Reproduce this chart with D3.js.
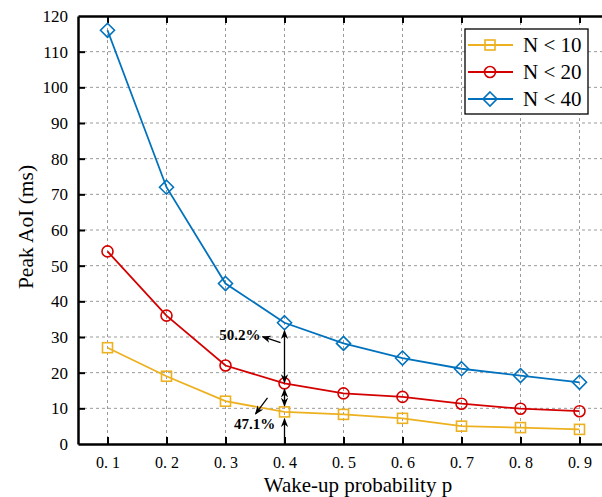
<!DOCTYPE html>
<html>
<head>
<meta charset="utf-8">
<script src="https://cdn.jsdelivr.net/npm/d3@7"></script>
<style>
  body { margin: 0; background: #fff; }
  svg text { font-family: "Liberation Serif", "DejaVu Serif", serif; }
</style>
</head>
<body>
<div id="chart"></div>
<script>
// data
const probs = [0.1, 0.2, 0.3, 0.4, 0.5, 0.6, 0.7, 0.8, 0.9]
const n10 = [27, 19, 12, 9, 8.3, 7.2, 5, 4.6, 4.1]
const n20 = [54, 36, 22, 17, 14.2, 13.2, 11.3, 9.9, 9.2]
const n40 = [116, 72, 45, 34, 28.2, 24.1, 21.1, 19.2, 17.3]
const yTicks = [0, 10, 20, 30, 40, 50, 60, 70, 80, 90, 100, 110, 120]
const seriesNames = ["N < 10", "N < 20", "N < 40"]
const seriesColors = ["#EDB120", "#D40000", "#0072BD"]
const seriesShapes = ["square", "circle", "diamond"]

const width = 602, height = 497
const pLeft = 78, pRight = 609, pTop = 16, pBottom = 444

const svg = d3.select("#chart").append("svg")
    .attr("width", width)
    .attr("height", height)

const x = d3.scaleLinear().domain([0.05, 0.95]).range([pLeft, pRight])
const y = d3.scaleLinear().domain([0, 120]).range([pBottom, pTop])

// grid
svg.append("g").selectAll("line")
    .data(probs).enter().append("line")
    .attr("x1", d => x(d)).attr("x2", d => x(d))
    .attr("y1", pTop).attr("y2", pBottom)
    .attr("stroke", "#9a9a9a").attr("stroke-width", 1)
    .attr("stroke-dasharray", "3,3")
svg.append("g").selectAll("line")
    .data(yTicks.slice(1, -1)).enter().append("line")
    .attr("x1", pLeft).attr("x2", pRight)
    .attr("y1", d => y(d)).attr("y2", d => y(d))
    .attr("stroke", "#9a9a9a").attr("stroke-width", 1)
    .attr("stroke-dasharray", "3,3")

// axes
const xAxis = d3.axisBottom(x).tickValues(probs).tickSizeInner(-7).tickSizeOuter(0).tickPadding(13)
    .tickFormat(d => d3.format(".1f")(d).replace(".", ". "))
const gx = svg.append("g").attr("transform", "translate(0," + pBottom + ")").call(xAxis)
const xTop = d3.axisTop(x).tickValues(probs).tickSizeInner(-7).tickSizeOuter(0).tickFormat("")
const gxt = svg.append("g").attr("transform", "translate(0," + pTop + ")").call(xTop)
const yAxis = d3.axisLeft(y).tickValues(yTicks).tickSizeInner(-7).tickSizeOuter(0).tickPadding(10)
const gy = svg.append("g").attr("transform", "translate(" + pLeft + ",0)").call(yAxis)

;[gx, gxt, gy].forEach(g => {
    g.attr("font-family", null).attr("font-size", null)
    g.select(".domain").attr("stroke", "#000").attr("stroke-width", 2.5)
    g.selectAll(".tick line").attr("stroke", "#000").attr("stroke-width", 2)
    g.selectAll("text").attr("fill", "#000")
})
gy.selectAll("text").style("font-size", "17px")
gx.selectAll("text").style("font-size", "16px")
gy.selectAll(".tick").filter(d => d === 0 || d === 120).select("line").remove()

// axis titles
svg.append("text")
    .attr("transform", "translate(25,227) rotate(-90)")
    .attr("text-anchor", "middle").attr("dy", "0.35em")
    .style("font-size", "21.5px")
    .text("Peak AoI (ms)")
svg.append("text")
    .attr("x", 358).attr("y", 492)
    .attr("text-anchor", "middle")
    .style("font-size", "21px")
    .text("Wake-up probability p")

// marker drawing
function drawMarker(g, shape, color) {
    if (shape === "square") {
        g.append("rect").attr("x", -5).attr("y", -5).attr("width", 10).attr("height", 10)
            .attr("fill", "none").attr("stroke", color).attr("stroke-width", 1.6)
    } else if (shape === "circle") {
        g.append("circle").attr("r", 5.5)
            .attr("fill", "none").attr("stroke", color).attr("stroke-width", 1.6)
    } else {
        g.append("path").attr("d", "M0,-7L7,0L0,7L-7,0Z")
            .attr("fill", "none").attr("stroke", color).attr("stroke-width", 1.6)
    }
}

const allSeries = [n10, n20, n40]
const line = d3.line().x((d, i) => x(probs[i])).y(d => y(d))

allSeries.forEach((vals, k) => {
    svg.append("path").datum(vals)
        .attr("d", line)
        .attr("fill", "none")
        .attr("stroke", seriesColors[k])
        .attr("stroke-width", 1.8)
    vals.forEach((v, i) => {
        const g = svg.append("g").attr("transform", "translate(" + x(probs[i]) + "," + y(v) + ")")
        drawMarker(g, seriesShapes[k], seriesColors[k])
    })
})

// annotations
const defs = svg.append("defs")
defs.append("marker").attr("id", "ah")
    .attr("viewBox", "0 0 10 10").attr("refX", 9).attr("refY", 5)
    .attr("markerWidth", 7).attr("markerHeight", 7).attr("orient", "auto-start-reverse")
    .append("path").attr("d", "M0,1L10,5L0,9L3,5Z").attr("fill", "#000")

const xa = x(0.4)
function arrow(x1, y1, x2, y2, both) {
    const l = svg.append("line")
        .attr("x1", x1).attr("y1", y1).attr("x2", x2).attr("y2", y2)
        .attr("stroke", "#000").attr("stroke-width", 1.3)
        .attr("marker-end", "url(#ah)")
    if (both) l.attr("marker-start", "url(#ah)")
}
arrow(xa, y(n40[3]) + 8, xa, y(n20[3]) - 1, true)
arrow(xa - 4, y(n40[3]) + 20, xa - 22, y(n40[3]) + 14, false)
arrow(xa, y(n20[3]) + 6, xa, y(n10[3]) - 6, true)
arrow(xa, pBottom, xa, y(n10[3]) + 7, false)
arrow(xa - 17, y(n10[3]) - 14, xa - 29, y(n10[3]) + 2, false)

svg.append("text").attr("x", xa - 24).attr("y", y(n40[3]) + 17)
    .attr("text-anchor", "end").style("font-size", "15px").style("font-weight", "bold")
    .text("50.2%")
svg.append("text").attr("x", xa - 30).attr("y", y(n10[3]) + 17)
    .attr("text-anchor", "middle").style("font-size", "15px").style("font-weight", "bold")
    .text("47.1%")

// legend
const lg = svg.append("g").attr("transform", "translate(465,29)")
lg.append("rect").attr("width", 123).attr("height", 85)
    .attr("fill", "#fff").attr("stroke", "#000").attr("stroke-width", 1.3)
seriesNames.forEach((name, k) => {
    const row = lg.append("g").attr("transform", "translate(0," + (16 + k * 27) + ")")
    row.append("line").attr("x1", 3).attr("x2", 48)
        .attr("stroke", seriesColors[k]).attr("stroke-width", 1.8)
    drawMarker(row.append("g").attr("transform", "translate(25,0)"), seriesShapes[k], seriesColors[k])
    row.append("text").attr("x", 58).attr("dy", "0.35em")
        .style("font-size", "21px").text(name)
})
</script>
</body>
</html>
